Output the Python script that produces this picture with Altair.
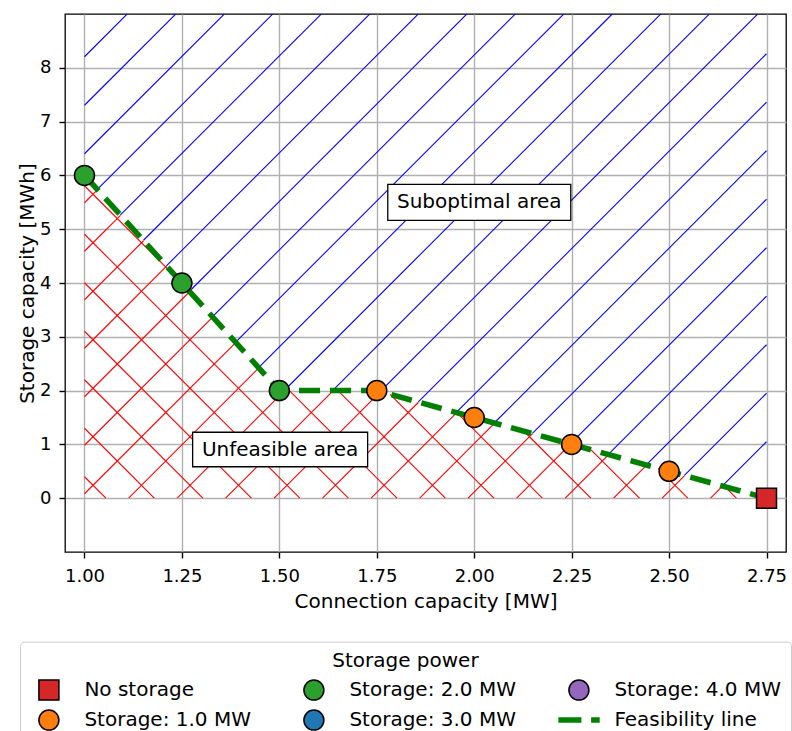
import altair as alt
import numpy as np
import pandas as pd

# ---------------- data ----------------
connection_mw = [1.00, 1.25, 1.50, 1.75, 2.00, 2.25, 2.50, 2.75]
storage_mwh = [6.0, 4.0, 2.0, 2.0, 1.5, 1.0, 0.5, 0.0]
storage_power = ["Storage: 2.0 MW", "Storage: 2.0 MW", "Storage: 2.0 MW",
                 "Storage: 1.0 MW", "Storage: 1.0 MW", "Storage: 1.0 MW",
                 "Storage: 1.0 MW", "No storage"]

legend_labels = ["No storage", "Storage: 1.0 MW", "Storage: 2.0 MW",
                 "Storage: 3.0 MW", "Storage: 4.0 MW", "Feasibility line"]
legend_colors = ["#d62728", "#ff7f0e", "#2ca02c", "#1f77b4", "#9467bd", "transparent"]
LINE_PATH = "M-2.05,0H0.25M1.22,0H2.08"
legend_shapes = ["square", "circle", "circle", "circle", "circle", LINE_PATH]

x_ticks = [1.00, 1.25, 1.50, 1.75, 2.00, 2.25, 2.50, 2.75]
y_ticks = [0, 1, 2, 3, 4, 5, 6, 7, 8]

annotation_text = ["Suboptimal area", "Unfeasible area"]
annotation_x = [2.013, 1.502]
annotation_y = [5.5, 0.905]

# ---------------- layout ----------------
XD = [0.95, 2.80]
YD = [-1.0, 9.0]
W, H = 721, 538
LEFT, TOP, RIGHT, BOTTOM = 65, 14, 6, 179


def to_px(x, y):
    return (LEFT + (np.asarray(x) - XD[0]) / (XD[1] - XD[0]) * W,
            TOP + (YD[1] - np.asarray(y)) / (YD[1] - YD[0]) * H)


def to_data(px, py):
    return (XD[0] + (np.asarray(px) - LEFT) / W * (XD[1] - XD[0]),
            YD[1] - (np.asarray(py) - TOP) / H * (YD[1] - YD[0]))


def inside(px, py, poly):
    res = np.zeros(len(px), dtype=bool)
    n = len(poly)
    for i in range(n):
        x1, y1 = poly[i]
        x2, y2 = poly[(i + 1) % n]
        if y1 == y2:
            continue
        cond = (y1 > py) != (y2 > py)
        xint = (x2 - x1) * (py - y1) / (y2 - y1) + x1
        res ^= cond & (px < xint)
    return res


def hatch(poly_data, direction, c0, step, tag):
    """45-degree hatch lines (in screen pixels) clipped to a polygon; long format."""
    xs, ys = zip(*poly_data)
    ppx, ppy = to_px(list(xs), list(ys))
    poly = list(zip(ppx, ppy))
    px_lin = np.linspace(min(ppx) - 1, max(ppx) + 1, 4001)
    vals = ppx + ppy if direction == "/" else ppy - ppx
    k0 = int(np.floor((vals.min() - c0) / step)) - 1
    k1 = int(np.ceil((vals.max() - c0) / step)) + 1
    rows = []
    seg = 0
    for k in range(k0, k1 + 1):
        c = c0 + k * step
        py_lin = (c - px_lin) if direction == "/" else (c + px_lin)
        m = inside(px_lin, py_lin, poly).astype(int)
        dm = np.diff(np.concatenate([[0], m, [0]]))
        starts = np.where(dm == 1)[0]
        ends = np.where(dm == -1)[0] - 1
        for s, e in zip(starts, ends):
            if e <= s:
                continue
            for order, idx in enumerate((s, e)):
                xv, yv = to_data(px_lin[idx], py_lin[idx])
                rows.append({"x": float(xv), "y": float(yv),
                             "seg": f"{tag}{seg}", "o": order})
            seg += 1
    return pd.DataFrame(rows)


feas = list(zip(connection_mw, storage_mwh))
unfeasible_poly = [(connection_mw[0], 0.0)] + feas
suboptimal_poly = feas + [(connection_mw[-1], YD[1]), (connection_mw[0], YD[1])]

# phases chosen off the pixel grid (x.25 / x.75) so every line anti-aliases alike
blue_df = hatch(suboptimal_poly, "/", 626.25, 48.5, "b")
red_df = pd.concat([hatch(unfeasible_poly, "/", 626.75, 48.5, "ra"),
                    hatch(unfeasible_poly, "\\", 392.25, 48.5, "rb")], ignore_index=True)

points_df = pd.DataFrame({"x": connection_mw, "y": storage_mwh, "series": storage_power})
ann_df = pd.DataFrame({"x": annotation_x, "y": annotation_y, "text": annotation_text})

FONT = "DejaVu Sans"

X = alt.X("x:Q", scale=alt.Scale(domain=XD, nice=False, zero=False),
          axis=alt.Axis(values=x_ticks, format=".2f", title="Connection capacity [MW]"))
Y = alt.Y("y:Q", scale=alt.Scale(domain=YD, nice=False, zero=False),
          axis=alt.Axis(values=y_ticks, format="d", title="Storage capacity [MWh]"))


def hatch_layer(df, color):
    return alt.Chart(df).mark_line(stroke=color, strokeWidth=1.1, interpolate="linear").encode(
        x=X, y=Y, detail="seg:N", order="o:Q")


blue = hatch_layer(blue_df, "#0000ff")
red = hatch_layer(red_df, "#ff0000")

line = alt.Chart(points_df).mark_line(
    stroke="#008000", strokeWidth=5.5, strokeDash=[21, 10], strokeCap="butt"
).encode(x=X, y=Y)

legend = alt.Legend(
    title="Storage power", orient="none", legendX=-45, legendY=627.7,
    columns=3, columnPadding=31, rowPadding=4, padding=9.4, gridAlign="all",
    fillColor="white", strokeColor="#cccccc", cornerRadius=4,
    symbolSize=400, symbolOffset=9.5, labelOffset=25.5,
    symbolStrokeWidth=alt.ExprRef("datum.value === 'Feasibility line' ? 5.5 : 1.5"),
    symbolStrokeColor=alt.ExprRef("datum.value === 'Feasibility line' ? '#008000' : 'black'"),
    labelFont=FONT, labelFontSize=20, labelColor="black", labelLimit=400,
    titleFont=FONT, titleFontSize=20, titleFontWeight="normal", titleColor="black",
    titleAnchor="middle", titlePadding=9,
)

points = alt.Chart(points_df).mark_point(
    filled=True, size=400, stroke="black", strokeWidth=1.5, opacity=1
).encode(
    x=X, y=Y,
    color=alt.Color("series:N", scale=alt.Scale(domain=legend_labels, range=legend_colors), legend=legend),
    shape=alt.Shape("series:N", scale=alt.Scale(domain=legend_labels, range=legend_shapes), legend=legend),
)

BOX_PATH = "M-1,-0.197H1V0.197H-1Z"
box_sub = alt.Chart(ann_df.iloc[[0]]).mark_point(
    shape=BOX_PATH, size=183 ** 2, fill="white", stroke="black", strokeWidth=1.3,
    opacity=1, filled=True
).encode(x=X, y=Y)
box_unf = alt.Chart(ann_df.iloc[[1]]).mark_point(
    shape=BOX_PATH, size=175 ** 2, fill="white", stroke="black", strokeWidth=1.3,
    opacity=1, filled=True
).encode(x=X, y=Y)
texts = alt.Chart(ann_df).mark_text(
    font=FONT, fontSize=20, color="black", align="center", baseline="middle"
).encode(x=X, y=Y, text="text:N")

chart = alt.layer(blue, red, line, points, box_sub, box_unf, texts).properties(
    width=W, height=H,
    padding={"left": LEFT, "top": TOP, "right": RIGHT, "bottom": BOTTOM},
    autosize=alt.AutoSizeParams(type="none"),
).configure_view(
    stroke="black", strokeWidth=1.3
).configure_axis(
    labelFont=FONT, labelFontSize=18, labelColor="black",
    titleFont=FONT, titleFontSize=20, titleFontWeight="normal", titleColor="black",
    tickColor="black", tickSize=6, tickWidth=1.4,
    gridColor="#b0b0b0", gridWidth=1.4, domain=False,
).configure_axisX(
    labelPadding=9, titlePadding=6
).configure_axisY(
    labelPadding=8, titlePadding=2
)

chart.save("out.html", embed_options={"renderer": "svg", "actions": False})
